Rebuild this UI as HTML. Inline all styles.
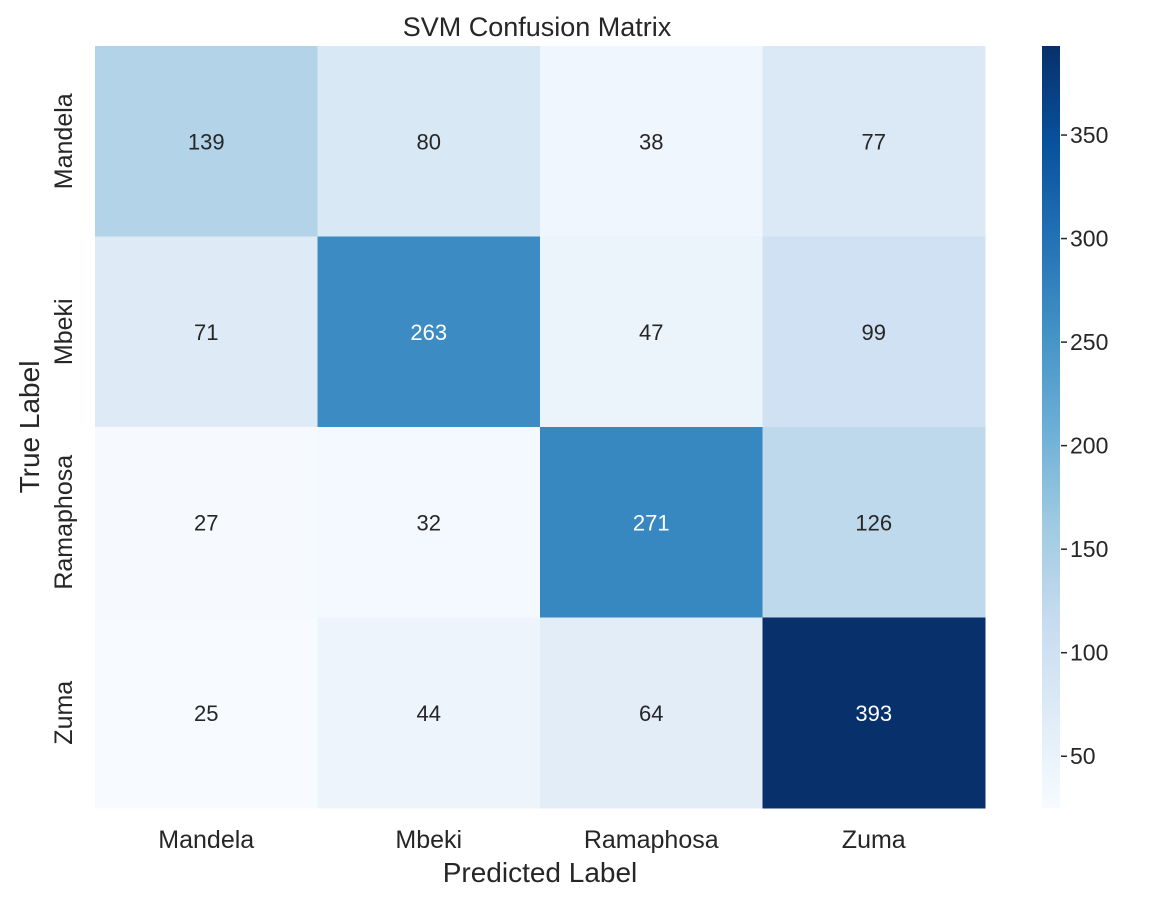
<!DOCTYPE html>
<html><head><meta charset="utf-8"><style>
body{margin:0;background:#fff;font-family:"Liberation Sans",Arial,sans-serif;}
svg text{font-family:"Liberation Sans",Arial,sans-serif;fill:#262626;}
</style></head><body>
<svg id="chart" width="1157" height="902" viewBox="0 0 1157 902">
<defs><linearGradient id="cbgrad" x1="0" y1="1" x2="0" y2="0"></linearGradient></defs>
<g id="cells"></g>
<g id="labels"></g>
<text x="537" y="36" text-anchor="middle" font-size="27">SVM Confusion Matrix</text>
<text x="540" y="882" text-anchor="middle" font-size="28">Predicted Label</text>
<text x="39" y="427" text-anchor="middle" font-size="28" transform="rotate(-90 39 427)">True Label</text>
</svg>
<script>
const categories=["Mandela","Mbeki","Ramaphosa","Zuma"];
const row0=[139,80,38,77];
const row1=[71,263,47,99];
const row2=[27,32,271,126];
const row3=[25,44,64,393];
const cbTicks=[50,100,150,200,250,300,350];
const matrix=[row0,row1,row2,row3];
const blues=["#f7fbff","#deebf7","#c6dbef","#9ecae1","#6baed6","#4292c6","#2171b5","#08519c","#08306b"];
const NS="http://www.w3.org/2000/svg";
const X0=95,X1=985,Y0=46,Y1=808,CBX=1042,CBW=18;
const all=matrix.flat();const vmin=Math.min(...all),vmax=Math.max(...all);
function hex(h){return[1,3,5].map(i=>parseInt(h.substr(i,2),16));}
function cmap(t){t=Math.max(0,Math.min(1,t));const p=t*(blues.length-1);const i=Math.min(Math.floor(p),blues.length-2);const f=p-i;const a=hex(blues[i]),b=hex(blues[i+1]);const c=a.map((v,k)=>Math.round(v+(b[k]-v)*f));return{css:`rgb(${c})`,lum:(0.299*c[0]+0.587*c[1]+0.114*c[2])};}
const n=categories.length,cw=(X1-X0)/n,ch=(Y1-Y0)/n;
const xPos=j=>X0+j*cw,yPos=i=>Y0+i*ch;
const cells=document.getElementById('cells');
function mk(tag,attrs,parent){const e=document.createElementNS(NS,tag);for(const k in attrs)e.setAttribute(k,attrs[k]);parent.appendChild(e);return e;}
matrix.forEach((row,i)=>row.forEach((v,j)=>{
 const c=cmap((v-vmin)/(vmax-vmin));
 const r=mk('rect',{x:xPos(j),y:yPos(i),width:cw+0.5,height:ch+0.5,fill:c.css},cells);
 
 
 const t=mk('text',{x:xPos(j)+cw/2,y:yPos(i)+ch/2+8,'text-anchor':'middle','font-size':'22'},cells);
 t.style.fill=c.lum<140?'#ffffff':'#262626';
 t.textContent=v;
 
 
}));
const lab=document.getElementById('labels');
categories.forEach((c,j)=>{
 const t=mk('text',{x:xPos(j)+cw/2,y:Y1+40,'text-anchor':'middle','font-size':'25'},lab);t.textContent=c;
 
 
 const yc=yPos(j)+ch/2;
 const u=mk('text',{x:72,y:yc,'text-anchor':'middle','font-size':'25',transform:`rotate(-90 72 ${yc})`},lab);u.textContent=c;
 
 
});
const g=document.getElementById('cbgrad');
blues.forEach((b,k)=>mk('stop',{offset:k/(blues.length-1),'stop-color':b},g));
const cb=mk('rect',{x:CBX,y:Y0,width:CBW,height:Y1-Y0,fill:'url(#cbgrad)'},document.getElementById('chart'));


const cbY=v=>Y1-(v-vmin)/(vmax-vmin)*(Y1-Y0);
cbTicks.forEach(v=>{
 const y=cbY(v);
 const l=mk('line',{x1:CBX+CBW+1,x2:CBX+CBW+7,y1:y,y2:y,stroke:'#262626','stroke-width':1.5},lab);
 
 
 const t=mk('text',{x:CBX+CBW+10,y:y+8,'font-size':'23'},lab);t.textContent=v;
 
 
});
</script>
</body></html>
